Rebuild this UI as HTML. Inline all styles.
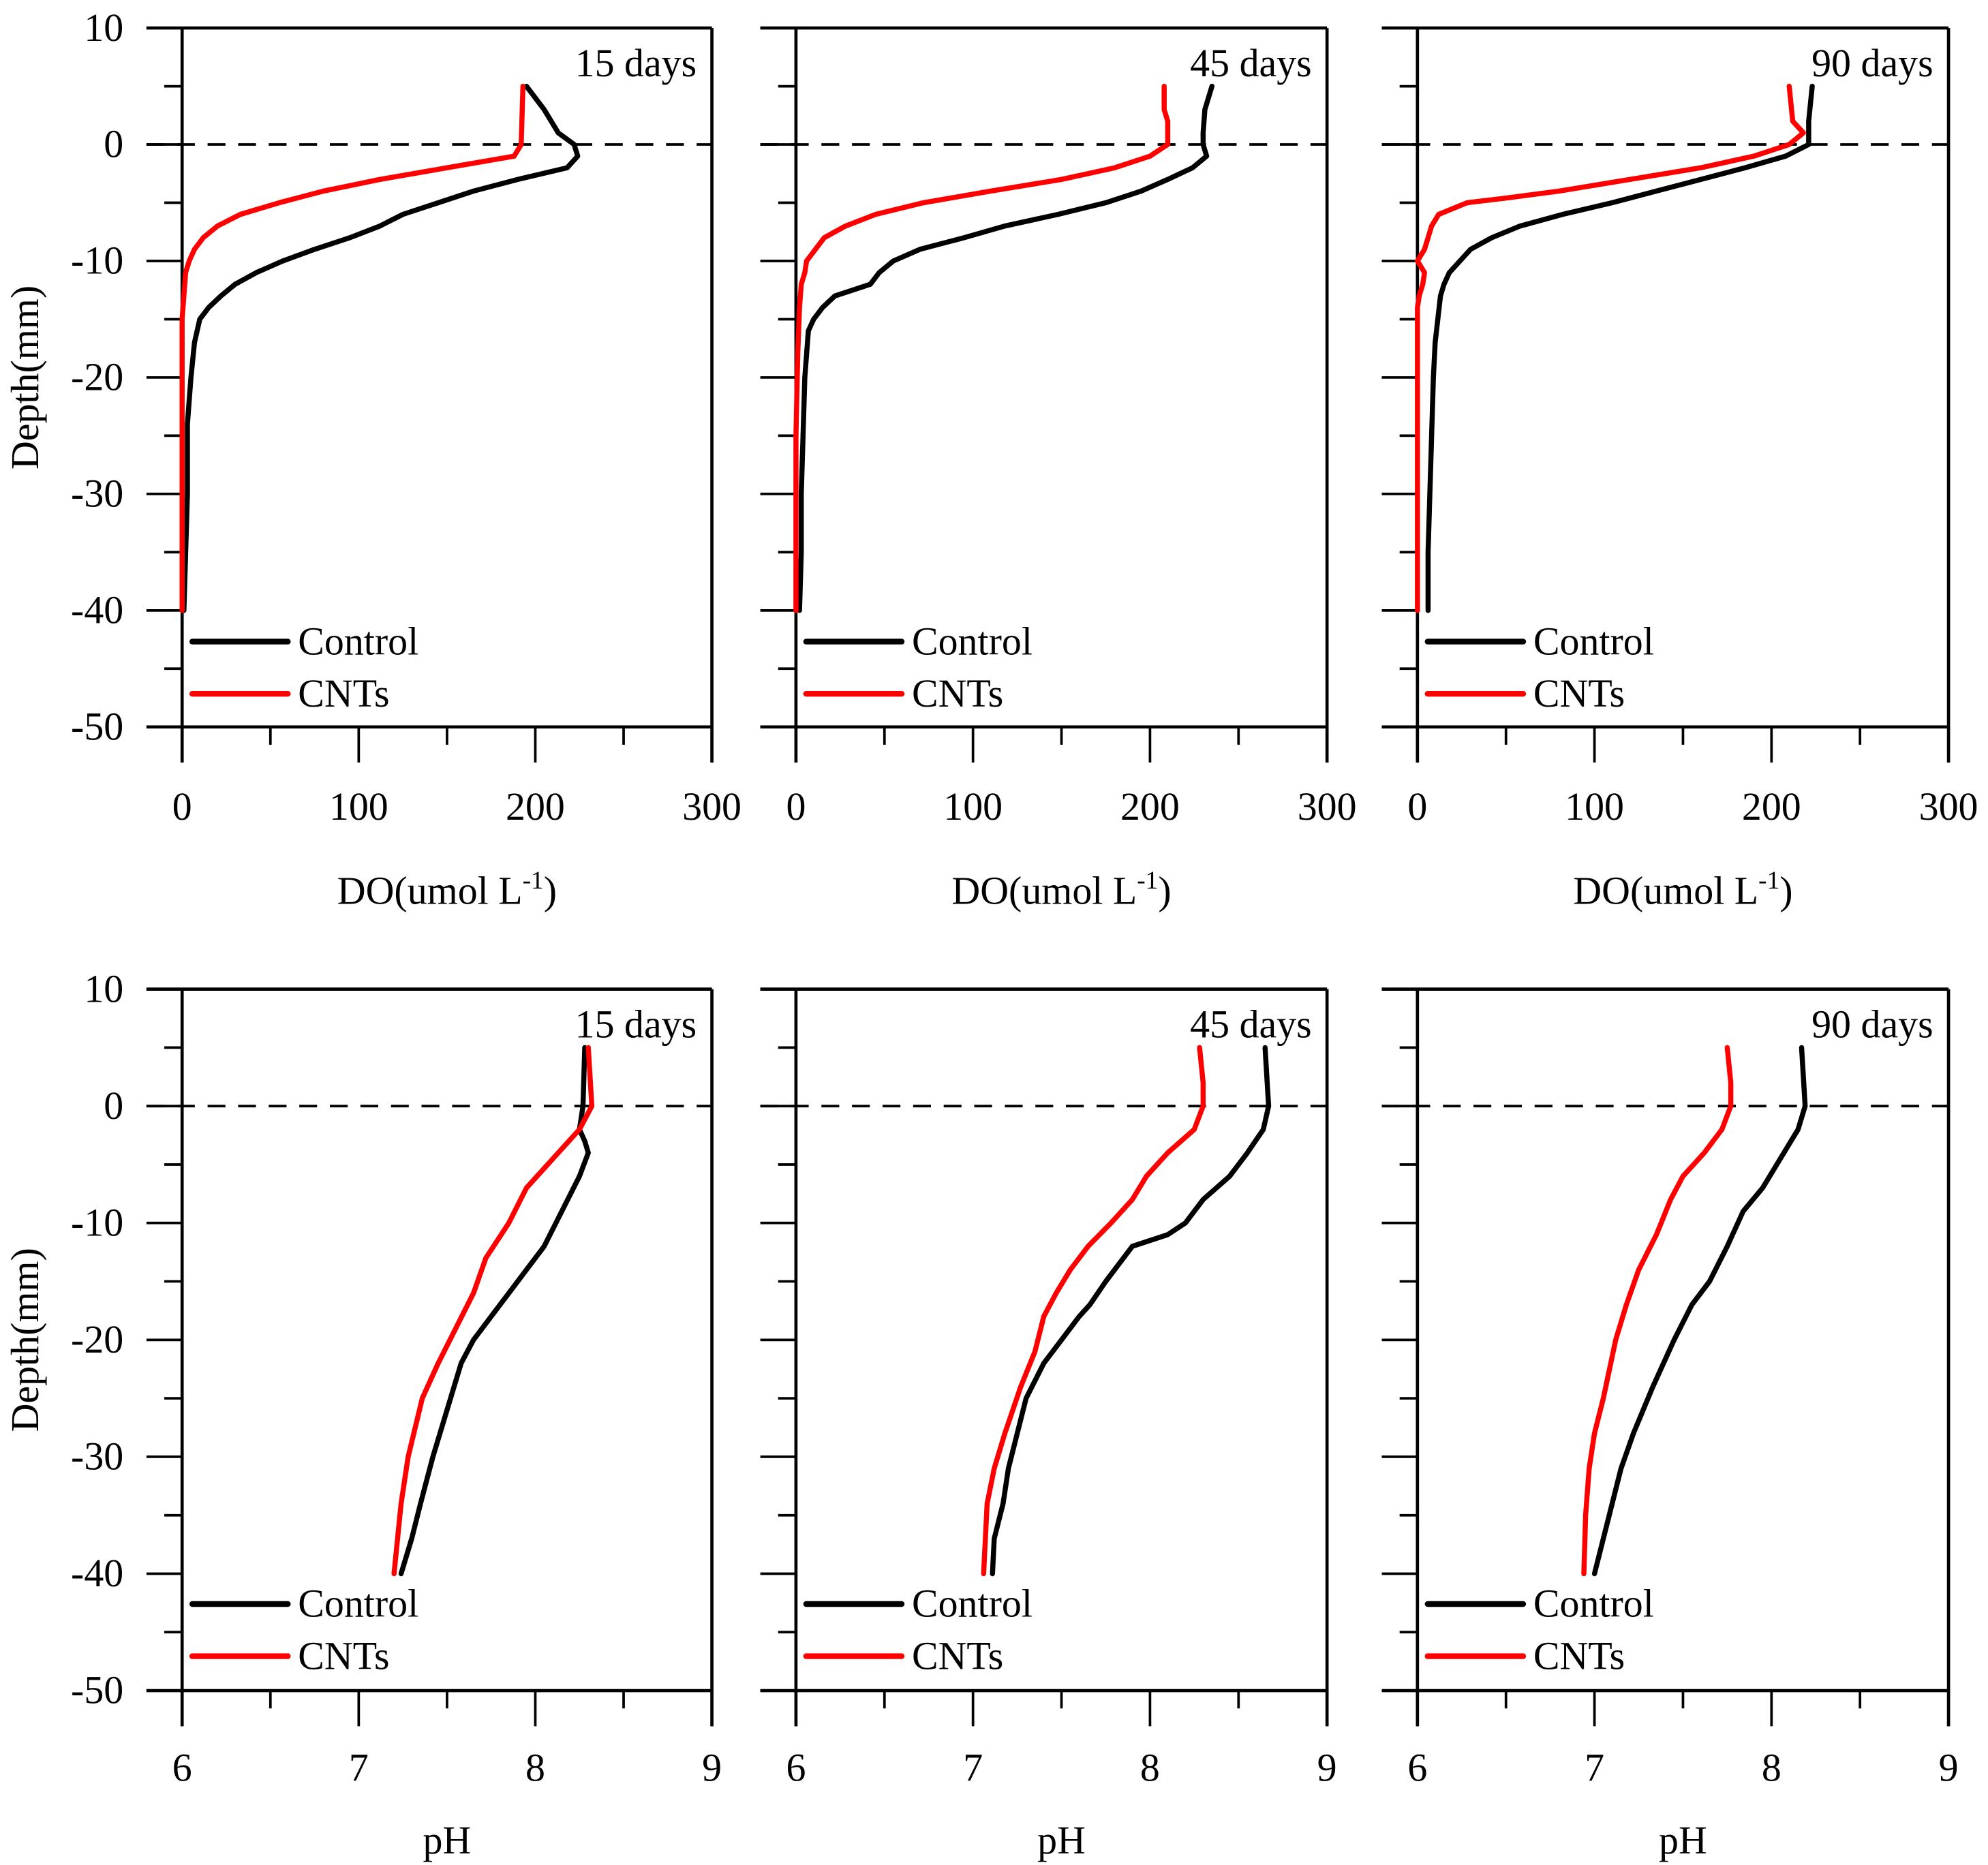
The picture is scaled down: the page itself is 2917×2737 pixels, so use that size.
<!DOCTYPE html>
<html><head><meta charset="utf-8"><style>
html,body{margin:0;padding:0;background:#fff;}
svg{display:block;}
text{font-family:"Liberation Serif",serif;fill:#000;}
</style></head><body>
<svg id="chart" width="2917" height="2737" viewBox="0 0 1561 1465" preserveAspectRatio="none" xmlns="http://www.w3.org/2000/svg"></svg>
<script>
const yTicks=[10,0,-10,-20,-30,-40,-50];
const doTicks=[0,100,200,300];
const phTicks=[6,7,8,9];
const dayLabels=["15 days","45 days","90 days"];
const seriesNames=["Control","CNTs"];
// DO profiles [value, depth]
const do15Control=[[195,5],[205,3],[213,1],[222,0],[224,-1],[218,-2],[190,-3],[165,-4],[145,-5],[125,-6],[112,-7],[95,-8],[75,-9],[57,-10],[42,-11],[30,-12],[22,-13],[15,-14],[10,-15],[7,-17],[5,-20],[3,-24],[3,-30],[2,-35],[1,-40]];
const do15CNTs=[[193,5],[192,0],[188,-1],[150,-2],[112,-3],[80,-4],[55,-5],[33,-6],[20,-7],[12,-8],[7,-9],[4,-10],[2,-11],[1,-13],[0,-15],[0,-20],[0,-40]];
const do45Control=[[235,5],[231,3],[230,1],[230,0],[232,-1],[224,-2],[210,-3],[195,-4],[175,-5],[148,-6],[118,-7],[95,-8],[70,-9],[55,-10],[47,-11],[42,-12],[22,-13],[15,-14],[10,-15],[7,-16],[6,-18],[5,-20],[4,-25],[3,-30],[3,-35],[2,-40]];
const do45CNTs=[[208,5],[208,3],[210,2],[210,0],[200,-1],[180,-2],[150,-3],[110,-4],[72,-5],[45,-6],[28,-7],[16,-8],[11,-9],[6,-10],[5,-11],[3,-12],[2,-14],[1,-18],[0,-25],[0,-40]];
const do90Control=[[223,5],[221,2],[221,0],[208,-1],[185,-2],[160,-3],[135,-4],[110,-5],[82,-6],[58,-7],[42,-8],[30,-9],[24,-10],[18,-11],[15,-12],[13,-13],[10,-17],[9,-20],[8,-25],[7,-30],[6,-35],[6,-40]];
const do90CNTs=[[210,5],[212,2],[218,1],[210,0],[190,-1],[160,-2],[120,-3],[80,-4],[50,-4.6],[28,-5],[12,-6],[8,-7],[6,-8],[4,-9],[0,-10],[4,-11],[3,-12],[1,-13],[0,-14],[0,-40]];
// pH profiles [value, depth]
const ph15Control=[[8.28,5],[8.27,0],[8.25,-2],[8.28,-3],[8.3,-4],[8.25,-6],[8.15,-9],[8.05,-12],[7.95,-14],[7.85,-16],[7.75,-18],[7.65,-20],[7.58,-22],[7.5,-26],[7.42,-30],[7.35,-34],[7.3,-37],[7.24,-40]];
const ph15CNTs=[[8.3,5],[8.32,0],[8.25,-2],[8.1,-4.5],[7.95,-7],[7.85,-10],[7.72,-13],[7.65,-16],[7.55,-19],[7.45,-22],[7.36,-25],[7.28,-30],[7.24,-34],[7.2,-40]];
const ph45Control=[[8.65,5],[8.67,0],[8.64,-2],[8.55,-4],[8.45,-6],[8.3,-8],[8.2,-10],[8.1,-11],[7.9,-12],[7.85,-13],[7.75,-15],[7.66,-17],[7.6,-18],[7.5,-20],[7.4,-22],[7.3,-25],[7.25,-28],[7.2,-31],[7.17,-34],[7.12,-37],[7.11,-40]];
const ph45CNTs=[[8.28,5],[8.3,2],[8.3,0],[8.25,-2],[8.1,-4],[7.98,-6],[7.9,-8],[7.78,-10],[7.65,-12],[7.55,-14],[7.47,-16],[7.4,-18],[7.35,-21],[7.27,-24],[7.18,-28],[7.12,-31],[7.08,-34],[7.07,-37],[7.06,-40]];
const ph90Control=[[8.17,5],[8.19,0],[8.15,-2],[8.07,-4],[7.95,-7],[7.84,-9],[7.75,-12],[7.65,-15],[7.55,-17],[7.45,-20],[7.33,-24],[7.22,-28],[7.15,-31],[7.1,-34],[7.05,-37],[7.0,-40]];
const ph90CNTs=[[7.75,5],[7.77,2],[7.77,0],[7.72,-2],[7.62,-4],[7.5,-6],[7.43,-8],[7.35,-11],[7.25,-14],[7.18,-17],[7.12,-20],[7.05,-25],[7.0,-28],[6.97,-31],[6.95,-35],[6.94,-40]];

const NS="http://www.w3.org/2000/svg";
const svg=document.getElementById('chart');
function mk(tag,attrs,parent){const e=document.createElementNS(NS,tag);for(const k in attrs)e.setAttribute(k,attrs[k]);(parent||svg).appendChild(e);return e;}
const cols=[[143,559],[625,1042],[1113,1530]];
const FS=31;
const rows=[{top:22,bot:571,tickY:633,titleY:700,leg:[504,545],xt:doTicks,xmin:0,xmax:300,title:'DO'},
            {top:777,bot:1328,tickY:1388,titleY:1446,leg:[1260,1301],xt:phTicks,xmin:6,xmax:9,title:'pH'}];
const data=[[[do15Control,do15CNTs],[do45Control,do45CNTs],[do90Control,do90CNTs]],
            [[ph15Control,ph15CNTs],[ph45Control,ph45CNTs],[ph90Control,ph90CNTs]]];
const colors=['#000','#ff0000'];
rows.forEach((r,ri)=>{
  cols.forEach((c,ci)=>{
    const [L,R]=c;
    const g=mk('g',{});
    
    
    const sy=v=>r.top+(10-v)/60*(r.bot-r.top);
    const sx=v=>L+(v-r.xmin)/(r.xmax-r.xmin)*(R-L);
    mk('line',{x1:L-28,y1:r.top,x2:R,y2:r.top,stroke:'#000','stroke-width':2.5},g);
    mk('line',{x1:L-28,y1:r.bot,x2:R,y2:r.bot,stroke:'#000','stroke-width':2.5},g);
    mk('line',{x1:L,y1:r.top,x2:L,y2:r.bot+28,stroke:'#000','stroke-width':2.5},g);
    mk('line',{x1:R,y1:r.top,x2:R,y2:r.bot+28,stroke:'#000','stroke-width':2.5},g);
    for(let v=10;v>=-50;v-=5){
      const major=v%10===0;
      mk('line',{x1:L-(major?28:14),y1:sy(v),x2:L,y2:sy(v),stroke:'#000','stroke-width':2},g);
    }
    if(ci===0){yTicks.forEach(v=>{const t=mk('text',{x:97,y:sy(v)+10,'text-anchor':'end','font-size':FS},g);t.textContent=v;});
      const cy=(r.top+r.bot)/2;
      const yt=mk('text',{x:30,y:cy,'text-anchor':'middle','font-size':FS,transform:`rotate(-90 30 ${cy})`},g);
      yt.textContent='Depth(mm)';
      
      }
    const step=(r.xmax-r.xmin)/6;
    for(let i=0;i<=6;i++){const x=sx(r.xmin+i*step);mk('line',{x1:x,y1:r.bot,x2:x,y2:r.bot+(i%2?14:28),stroke:'#000','stroke-width':2},g);}
    r.xt.forEach(v=>{const t=mk('text',{x:sx(v),y:r.tickY+11,'text-anchor':'middle','font-size':FS},g);t.textContent=v;});
    const xt=mk('text',{x:(L+R)/2,y:r.titleY+10,'text-anchor':'middle','font-size':FS},g);
    
    
    if(r.title==='DO'){xt.innerHTML='DO(umol L<tspan font-size="20" dy="-12">-1</tspan><tspan dy="12">)</tspan>';}else xt.textContent='pH';
    mk('line',{x1:L-28,y1:sy(0),x2:R,y2:sy(0),stroke:'#000','stroke-width':2,'stroke-dasharray':'14,10'},g);
    const dl=mk('text',{x:R-12,y:r.top+38,'text-anchor':'end','font-size':FS},g);
    dl.textContent=dayLabels[ci];
    
    
    data[ri][ci].forEach((s,si)=>{
      const p=mk('polyline',{points:s.map(d=>sx(d[0])+','+sy(d[1])).join(' '),fill:'none',stroke:colors[si],'stroke-width':4,'stroke-linejoin':'round','stroke-linecap':'round'},g);
      
      
      const ly=r.leg[si];
      const le=mk('g',{},g);
      
      
      mk('line',{x1:L+8,y1:ly,x2:L+83,y2:ly,stroke:colors[si],'stroke-width':4.5,'stroke-linecap':'round'},le);
      const lt=mk('text',{x:L+91,y:ly+10,'font-size':FS},le);lt.textContent=seriesNames[si];
    });
  });
});
</script>
</body></html>
